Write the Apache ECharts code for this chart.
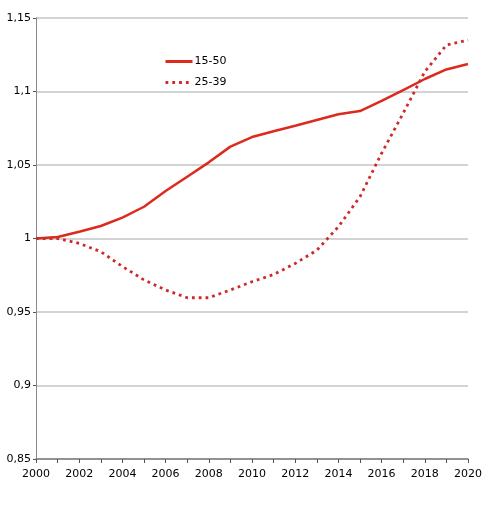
<!DOCTYPE html>
<html>
<head>
<meta charset="utf-8">
<script src="https://cdn.jsdelivr.net/npm/echarts@6/dist/echarts.min.js"></script>
<style>
  html, body { margin: 0; padding: 0; background: #fff; }
  #chart { width: 492px; height: 510px; }
</style>
</head>
<body>
<div id="chart"></div>
<script>
// Jahre (x-Achse)
const years = ["2000", "2001", "2002", "2003", "2004", "2005", "2006", "2007", "2008", "2009", "2010",
  "2011", "2012", "2013", "2014", "2015", "2016", "2017", "2018", "2019", "2020"];

// Reihen
const series1550 = [1.000, 1.001, 1.0046, 1.0085, 1.0142, 1.0216, 1.0323, 1.042, 1.0518, 1.0625, 1.069,
  1.073, 1.0767, 1.0806, 1.0845, 1.0867, 1.0937, 1.101, 1.1085, 1.115, 1.1187];
const series2539 = [1.000, 1.000, 0.9967, 0.991, 0.981, 0.9718, 0.965, 0.9597, 0.9597, 0.965, 0.9706,
  0.9755, 0.983, 0.992, 1.008, 1.0284, 1.058, 1.0852, 1.1135, 1.1316, 1.135];

const seriesNames = ["15-50", "25-39"];

// y-Achse
const yMin = 0.85;
const yMax = 1.15;
const yStep = 0.05;

const red = "#dc2a1c";
const red2 = "#cf2a2a";

const chart = echarts.init(document.getElementById("chart"));

const option = {
  animation: false,
  textStyle: { fontFamily: "DejaVu Sans", color: "#000" },
  grid: { left: 36, right: 24, top: 18, bottom: 51, containLabel: false },
  legend: {
    orient: "vertical",
    left: 164,
    top: 56,
    padding: 0,
    itemWidth: 27,
    itemHeight: 12,
    itemGap: 10,
    itemStyle: { opacity: 0 },
    lineStyle: { width: 3 },
    textStyle: { fontSize: 11, color: "#000", padding: [0, 0, 0, -3] },
    data: seriesNames
  },
  xAxis: {
    type: "category",
    data: years,
    boundaryGap: false,
    axisLine: { lineStyle: { color: "#7f7f7f", width: 1.5 } },
    axisTick: { show: true, interval: 0, length: 4, lineStyle: { color: "#555" } },
    axisLabel: { interval: 1, fontSize: 11, color: "#000", margin: 10 },
    splitLine: { show: false }
  },
  yAxis: {
    type: "value",
    min: yMin,
    max: yMax,
    interval: yStep,
    axisLine: { show: true, lineStyle: { color: "#8a8a8a", width: 1 } },
    axisTick: { show: true, length: 3, lineStyle: { color: "#555" } },
    axisLabel: {
      fontSize: 11,
      color: "#000",
      margin: 5,
      formatter: v => String(parseFloat(v.toFixed(2))).replace(".", ",")
    },
    splitLine: { lineStyle: { color: "#c4c4c4", width: 1.5 } }
  },
  series: [
    {
      name: seriesNames[0],
      type: "line",
      data: series1550,
      symbol: "none",
      itemStyle: { color: red },
      lineStyle: { color: red, width: 2.5 }
    },
    {
      name: seriesNames[1],
      type: "line",
      data: series2539,
      symbol: "none",
      itemStyle: { color: red2 },
      lineStyle: { color: red2, width: 2.8, type: [2.8, 4], cap: "butt" }
    }
  ]
};

option && chart.setOption(option);
</script>
</body>
</html>
